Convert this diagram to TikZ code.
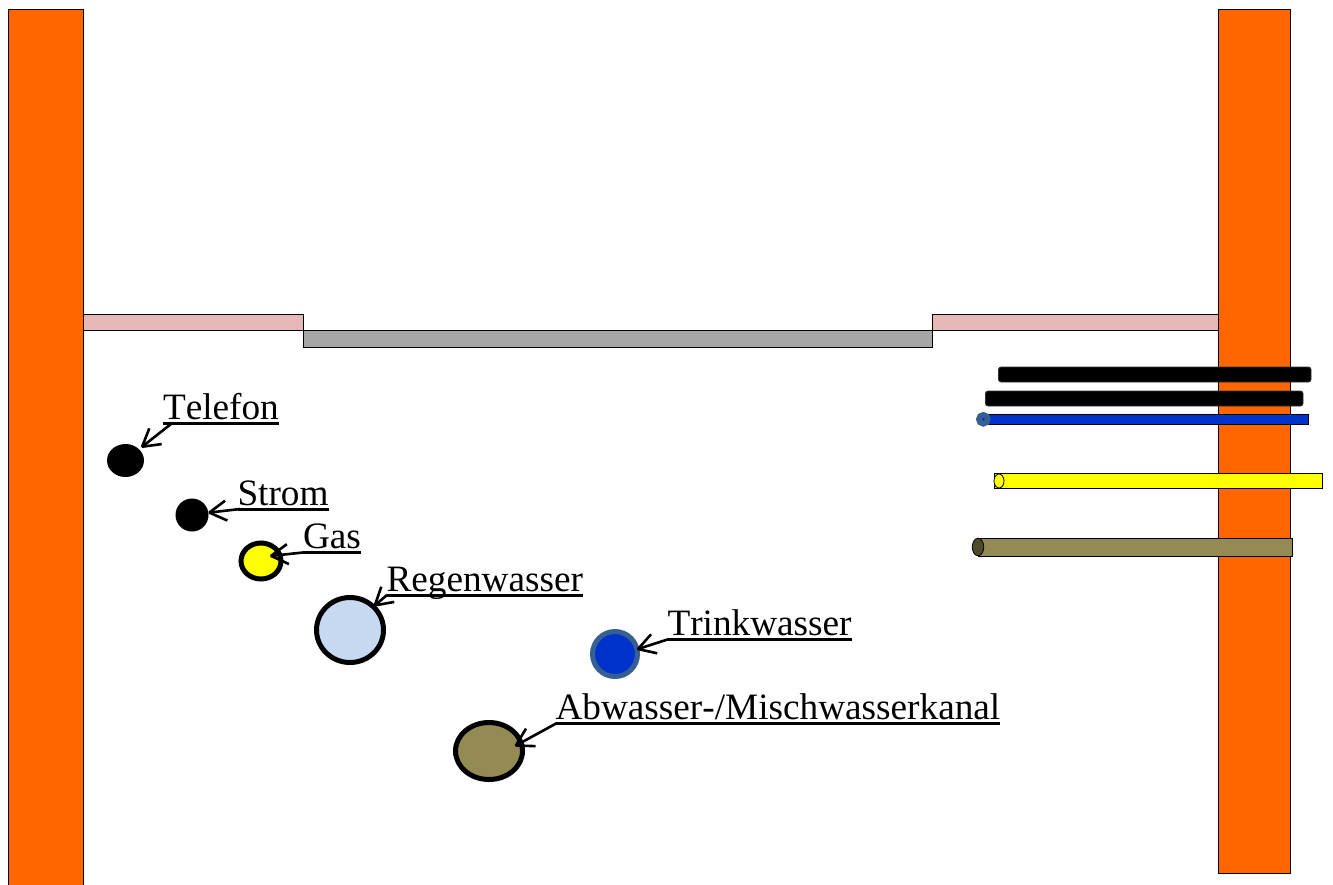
\documentclass[tikz,border=0pt]{standalone}
\usepackage{fontspec}
\setmainfont[Kerning=Off]{Liberation Serif}
\usetikzlibrary{shapes.geometric,arrows.meta}
\pgfdeclarearrow{
  name=StickHead,
  setup code={
    \pgfarrowssettipend{1pt}
    \pgfarrowssetlineend{-0.5pt}
    \pgfarrowssetvisualbackend{-17pt}
    \pgfarrowssetbackend{-17pt}
    \pgfarrowshullpoint{-17pt}{10pt}
    \pgfarrowshullpoint{-17pt}{-10pt}
    \pgfarrowshullpoint{1pt}{0pt}
  },
  drawing code={
    \pgfsetdash{}{0pt}
    \pgfsetbeveljoin
    \pgfsetbuttcap
    \pgfpathmoveto{\pgfpoint{-17pt}{10pt}}
    \pgfpathlineto{\pgfpoint{0pt}{0pt}}
    \pgfpathlineto{\pgfpoint{-17pt}{-10pt}}
    \pgfusepathqstroke
  }
}
\definecolor{wallc}{HTML}{FF6600}
\definecolor{pinkc}{HTML}{E6B8B7}
\definecolor{greyc}{HTML}{A6A6A6}
\definecolor{brownc}{HTML}{948A54}
\definecolor{browndark}{HTML}{4F4A2A}
\definecolor{bluec}{HTML}{0033CC}
\definecolor{blueedge}{HTML}{376092}
\definecolor{rainc}{HTML}{C6D9F1}
\definecolor{yellowc}{HTML}{FFFF00}
\newcommand{\ulabel}[1]{\setbox0\hbox{#1}\rlap{\vrule width \wd0 height -3.4pt depth 5.8pt}\box0}
\tikzset{
  x=1pt,y=-1pt,
  block/.style={draw=black,line width=0.8pt},
  pipe/.style={ellipse,inner sep=0pt,outer sep=0pt,line width=5pt},
  tag/.style={anchor=base west,inner sep=0pt,outer sep=0pt,font=\fontsize{37.25}{40}\selectfont},
  pointer/.style={line width=2.6pt,-{StickHead}},
  bar/.style={draw=black!80,line width=0.8pt,fill=black,rounded corners=2.5pt}
}
\begin{document}
\begin{tikzpicture}
\useasboundingbox (0,0) rectangle (1333,884);
% walls and road
\path[block,fill=wallc] (8.5,9) rectangle (83.5,890);
\path[block,fill=wallc] (1218,9) rectangle (1290.5,873);
\path[block,fill=pinkc] (83.5,314.5) rectangle (303,330.5);
\path[block,fill=pinkc] (932,314.5) rectangle (1218,330.5);
\path[block,fill=greyc] (303,330.5) rectangle (932,347.5);
% pipes seen from the side
\path[bar] (998.5,367) rectangle (1311,382);
\path[bar] (985.5,391) rectangle (1303,406);
\path[block,fill=bluec] (985,414.5) rectangle (1308.5,424.5);
\node[ellipse,inner sep=0pt,outer sep=0pt,minimum width=9pt,minimum height=9pt,draw=blueedge,line width=5.5pt,fill=bluec] (blueend) at (983.3,419.3) {};
\path[block,fill=yellowc] (994.5,473.5) rectangle (1322.5,488.5);
\node[ellipse,inner sep=0pt,outer sep=0pt,minimum width=10pt,minimum height=14pt,draw=black,line width=0.8pt,fill=yellowc] (yellowend) at (999,481) {};
\path[block,fill=brownc] (978,538.5) rectangle (1292,556);
\node[ellipse,inner sep=0pt,outer sep=0pt,minimum width=11.5pt,minimum height=17.5pt,draw=black,line width=0.8pt,fill=browndark] (brownend) at (978,547) {};
% pipes in section
\node[pipe,minimum width=37pt,minimum height=33pt,fill=black,line width=0pt] (ctel) at (125.5,460.5) {};
\node[pipe,minimum width=33pt,minimum height=33pt,fill=black,line width=0pt] (cstrom) at (192,515) {};
\node[pipe,minimum width=40pt,minimum height=36pt,draw=black,fill=yellowc] (cgas) at (261,561) {};
\node[pipe,minimum width=67pt,minimum height=65pt,draw=black,fill=rainc] (cregen) at (350,630) {};
\node[pipe,minimum width=45pt,minimum height=45pt,draw=blueedge,fill=bluec] (ctrink) at (615,654) {};
\node[pipe,minimum width=67pt,minimum height=57pt,draw=black,fill=brownc] (cabw) at (489,751) {};
% labels
\node[tag] (ltel) at (163,419) {\ulabel{Telefon}};
\node[tag] (lstrom) at (237.5,505) {\ulabel{Strom}};
\node[tag] (lgas) at (303,548) {\ulabel{Gas}};
\node[tag] (lregen) at (386.5,591) {\ulabel{Regenwasser}};
\node[tag] (ltrink) at (667.5,635) {\ulabel{Trinkwasser}};
\node[tag] (labw) at (555.5,719) {\ulabel{Abwasser-/Mischwasserkanal}};
% pointer ends on the underlines and tips
\coordinate (stel) at (171,424);
\coordinate (sstrom) at (240,509);
\coordinate (sgas) at (303,552.5);
\coordinate (sregen) at (387,595);
\coordinate (strink) at (669,639);
\coordinate (sabw) at (557,723);
\coordinate (tgas) at (270,556);
\coordinate (tabw) at (515,746);
\draw[pointer,shorten >=3pt] (stel) -- (ctel.40);
\draw[pointer] (sstrom) -- (cstrom.8);
\draw[pointer] (sgas) -- (tgas);
\draw[pointer,shorten >=1pt] (sregen) -- (cregen.45);
\draw[pointer] (strink) -- (ctrink.12);
\draw[pointer] (sabw) -- (tabw);
\end{tikzpicture}
\end{document}
